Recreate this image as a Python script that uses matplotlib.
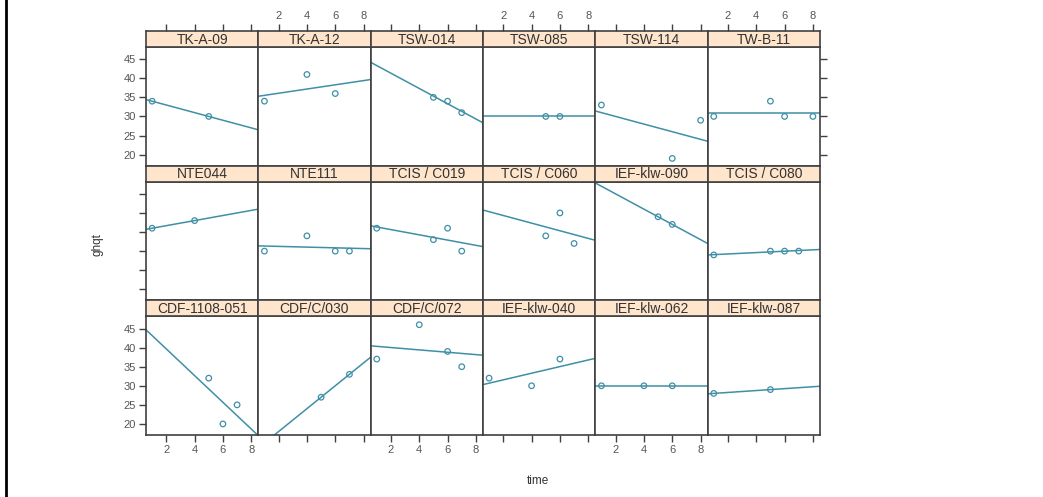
import numpy as np
import matplotlib
matplotlib.use("Agg")
import matplotlib.pyplot as plt
from matplotlib.lines import Line2D

plt.rcParams['font.family'] = ['Liberation Sans', 'DejaVu Sans']

# panel layout, row by row from the top
panel_names = [
    ["TK-A-09", "TK-A-12", "TSW-014", "TSW-085", "TSW-114", "TW-B-11"],
    ["NTE044", "NTE111", "TCIS / C019", "TCIS / C060", "IEF-klw-090", "TCIS / C080"],
    ["CDF-1108-051", "CDF/C/030", "CDF/C/072", "IEF-klw-040", "IEF-klw-062", "IEF-klw-087"],
]

# time / ghqt per subject
time_vals = {
    "TK-A-09": [1, 5],
    "TK-A-12": [1, 4, 6],
    "TSW-014": [5, 6, 7],
    "TSW-085": [5, 6],
    "TSW-114": [1, 6, 8],
    "TW-B-11": [1, 5, 6, 8],
    "NTE044": [1, 4],
    "NTE111": [1, 4, 6, 7],
    "TCIS / C019": [1, 5, 6, 7],
    "TCIS / C060": [5, 6, 7],
    "IEF-klw-090": [5, 6],
    "TCIS / C080": [1, 5, 6, 7],
    "CDF-1108-051": [5, 6, 7],
    "CDF/C/030": [5, 7],
    "CDF/C/072": [1, 4, 6, 7],
    "IEF-klw-040": [1, 4, 6],
    "IEF-klw-062": [1, 4, 6],
    "IEF-klw-087": [1, 5],
}
ghqt_vals = {
    "TK-A-09": [34, 30],
    "TK-A-12": [34, 41, 36],
    "TSW-014": [35, 34, 31],
    "TSW-085": [30, 30],
    "TSW-114": [33, 19, 29],
    "TW-B-11": [30, 34, 30, 30],
    "NTE044": [36, 38],
    "NTE111": [30, 34, 30, 30],
    "TCIS / C019": [36, 33, 36, 30],
    "TCIS / C060": [34, 40, 32],
    "IEF-klw-090": [39, 37],
    "TCIS / C080": [29, 30, 30, 30],
    "CDF-1108-051": [32, 20, 25],
    "CDF/C/030": [27, 33],
    "CDF/C/072": [37, 46, 39, 35],
    "IEF-klw-040": [32, 30, 37],
    "IEF-klw-062": [30, 30, 30],
    "IEF-klw-087": [28, 29],
}

x_ticks = [2, 4, 6, 8]
y_ticks = [20, 25, 30, 35, 40, 45]

W, H = 1043, 497
fig = plt.figure(figsize=(W / 100, H / 100), dpi=100)

col = '#3f8fa6'
frame = '#404040'
strip_col = '#ffe5cc'
xlim = (0.57, 8.5)
ylim = (17.1, 48.2)

left, right = 146, 820
top, bottom = 31, 435
ncol, nrow = 6, 3
cw = (right - left) / ncol
rh = (bottom - top) / nrow
strip_h = 16

def fx(px):
    return px / W

def fy(py):
    return 1 - py / H

for r in range(nrow):
    for c in range(ncol):
        name = panel_names[r][c]
        x0 = left + c * cw
        y_strip = top + r * rh
        y_plot = y_strip + strip_h
        y_end = top + (r + 1) * rh
        ax = fig.add_axes([fx(x0), fy(y_end), cw / W, (y_end - y_plot) / H])
        sax = fig.add_axes([fx(x0), fy(y_plot), cw / W, strip_h / H], sharex=ax)
        sax.set_facecolor(strip_col)
        sax.set_yticks([])
        sax.text(0.5, 0.45, name, ha='center', va='center', fontsize=10,
                 color='#333333', transform=sax.transAxes)

        t = np.array(time_vals[name])
        g = np.array(ghqt_vals[name])
        ax.scatter(t, g, s=16, facecolors='none', edgecolors=col, linewidths=0.9, zorder=3)
        if len(t) > 1:
            b, a = np.polyfit(t, g, 1)
            xx = np.array(xlim)
            ax.plot(xx, a + b * xx, color=col, lw=1.1)

        ax.set_xlim(*xlim)
        ax.set_ylim(*ylim)
        ax.set_xticks(x_ticks)
        ax.set_yticks(y_ticks)

        for a_ in (ax, sax):
            for sp in a_.spines.values():
                sp.set_color(frame)
                sp.set_linewidth(1.2)
            a_.tick_params(direction='out', length=5, width=1, color=frame,
                           labelsize=8, labelcolor='#555555', pad=2)

        # x axis: bottom on last row, top on first row (on strip)
        ax.tick_params(axis='x', bottom=(r == nrow - 1), top=False,
                       labelbottom=(r == nrow - 1 and c % 2 == 0), labeltop=False)
        sax.tick_params(axis='x', bottom=False, top=(r == 0),
                        labelbottom=False, labeltop=(r == 0 and c % 2 == 1))
        # y axis
        ax.tick_params(axis='y', left=(c == 0), right=(c == ncol - 1 and r == 0),
                       labelleft=(c == 0 and r != 1), labelright=False)
        sax.tick_params(axis='y', left=False, right=False, labelleft=False)

fig.text(fx(97), fy(245), 'ghqt', rotation=90, ha='center', va='center',
         fontsize=8.5, color='#333333')
fig.text(fx(538), fy(481), 'time', ha='center', va='center',
         fontsize=8.5, color='#333333')

fig.add_artist(Line2D([fx(6), fx(6)], [0, 1], color='black', lw=2,
                      transform=fig.transFigure))

fig.savefig('out.png', dpi=100)
